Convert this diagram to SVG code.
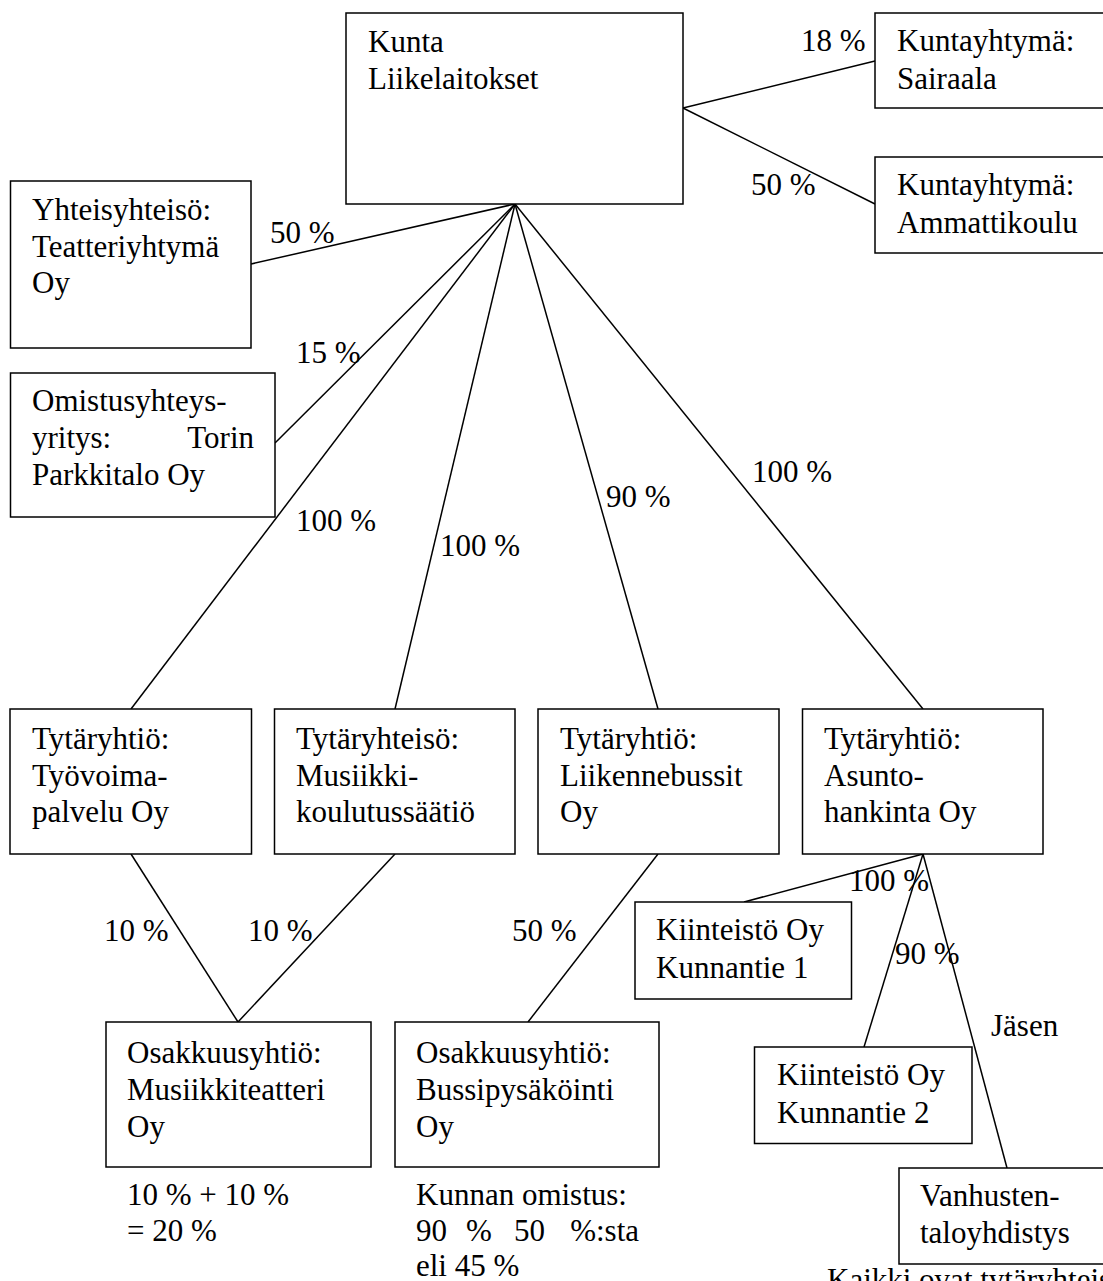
<svg xmlns="http://www.w3.org/2000/svg" width="1103" height="1281" viewBox="0 0 1103 1281" font-family="Liberation Serif, serif" font-size="31">
<style>
rect{fill:#fff;stroke:#000;stroke-width:1.5}
line{stroke:#000;stroke-width:1.5}
text{fill:#000}
</style>
<rect x="0" y="0" width="1103" height="1281" style="stroke:none"/>
<g id="connectors">
<line x1="683" y1="108" x2="875" y2="61"/>
<line x1="683" y1="108" x2="875" y2="204"/>
<line x1="515" y1="204" x2="251" y2="264"/>
<line x1="515" y1="204" x2="275" y2="443"/>
<line x1="515" y1="204" x2="131" y2="709"/>
<line x1="515" y1="204" x2="395" y2="709"/>
<line x1="515" y1="204" x2="658" y2="709"/>
<line x1="515" y1="204" x2="923" y2="709"/>
<line x1="131" y1="854" x2="238" y2="1022"/>
<line x1="395" y1="854" x2="238" y2="1022"/>
<line x1="658" y1="854" x2="528" y2="1022"/>
<line x1="923" y1="854" x2="744" y2="902"/>
<line x1="923" y1="854" x2="864" y2="1047"/>
<line x1="923" y1="854" x2="1007" y2="1168"/>
<text x="801" y="51">18 %</text>
<text x="751" y="195">50 %</text>
<text x="270" y="243">50 %</text>
<text x="296" y="363">15 %</text>
<text x="296" y="531">100 %</text>
<text x="440" y="556">100 %</text>
<text x="606" y="507">90 %</text>
<text x="752" y="482">100 %</text>
<text x="104" y="941">10 %</text>
<text x="248" y="941">10 %</text>
<text x="512" y="941">50 %</text>
<text x="849" y="891">100 %</text>
<text x="895" y="964">90 %</text>
<text x="991" y="1036">Jäsen</text>
</g>
<g id="kunta">
<rect x="346" y="13" width="337" height="191"/>
<text x="368" y="52">Kunta</text>
<text x="368" y="89">Liikelaitokset</text>
</g>
<g id="sairaala">
<rect x="875" y="13" width="240" height="95"/>
<text x="897" y="51">Kuntayhtymä:</text>
<text x="897" y="89">Sairaala</text>
</g>
<g id="ammattikoulu">
<rect x="875" y="157" width="240" height="96"/>
<text x="897" y="195">Kuntayhtymä:</text>
<text x="897" y="233">Ammattikoulu</text>
</g>
<g id="teatteriyhtyma">
<rect x="10.5" y="181" width="240.5" height="167"/>
<text x="32" y="220">Yhteisyhteisö:</text>
<text x="32" y="257">Teatteriyhtymä</text>
<text x="32" y="293">Oy</text>
</g>
<g id="parkkitalo">
<rect x="10.5" y="373" width="264.5" height="144"/>
<text x="32" y="411">Omistusyhteys-</text>
<text x="32" y="448">yritys:</text>
<text x="254" y="448" text-anchor="end">Torin</text>
<text x="32" y="485">Parkkitalo Oy</text>
</g>
<g id="tyovoimapalvelu">
<rect x="10" y="709" width="241.5" height="145"/>
<text x="32" y="749">Tytäryhtiö:</text>
<text x="32" y="786">Työvoima-</text>
<text x="32" y="822">palvelu Oy</text>
</g>
<g id="musiikkikoulutus">
<rect x="274.5" y="709" width="240.5" height="145"/>
<text x="296" y="749">Tytäryhteisö:</text>
<text x="296" y="786">Musiikki-</text>
<text x="296" y="822">koulutussäätiö</text>
</g>
<g id="liikennebussit">
<rect x="538" y="709" width="241" height="145"/>
<text x="560" y="749">Tytäryhtiö:</text>
<text x="560" y="786">Liikennebussit</text>
<text x="560" y="822">Oy</text>
</g>
<g id="asuntohankinta">
<rect x="802.5" y="709" width="240.5" height="145"/>
<text x="824" y="749">Tytäryhtiö:</text>
<text x="824" y="786">Asunto-</text>
<text x="824" y="822">hankinta Oy</text>
</g>
<g id="kunnantie1">
<rect x="635" y="902" width="216.5" height="97"/>
<text x="656" y="940">Kiinteistö Oy</text>
<text x="656" y="978">Kunnantie 1</text>
</g>
<g id="kunnantie2">
<rect x="754.5" y="1047" width="217.5" height="96.5"/>
<text x="777" y="1085">Kiinteistö Oy</text>
<text x="777" y="1123">Kunnantie 2</text>
</g>
<g id="musiikkiteatteri">
<rect x="106" y="1022" width="265" height="145"/>
<text x="127" y="1063">Osakkuusyhtiö:</text>
<text x="127" y="1100">Musiikkiteatteri</text>
<text x="127" y="1137">Oy</text>
<text x="127" y="1205">10 % + 10 %</text>
<text x="127" y="1241">= 20 %</text>
</g>
<g id="bussipysakointi">
<rect x="395" y="1022" width="264" height="145"/>
<text x="416" y="1063">Osakkuusyhtiö:</text>
<text x="416" y="1100">Bussipysäköinti</text>
<text x="416" y="1137">Oy</text>
<text x="416" y="1205">Kunnan omistus:</text>
<text x="416" y="1241">90</text>
<text x="466" y="1241">%</text>
<text x="514" y="1241">50</text>
<text x="639" y="1241" text-anchor="end">%:sta</text>
<text x="416" y="1276">eli 45 %</text>
</g>
<g id="vanhustentalo">
<rect x="899" y="1168" width="220" height="96"/>
<text x="920" y="1206">Vanhusten-</text>
<text x="920" y="1243">taloyhdistys</text>
</g>
<text x="827" y="1290">Kaikki ovat tytäryhteisöjä</text>
</svg>
